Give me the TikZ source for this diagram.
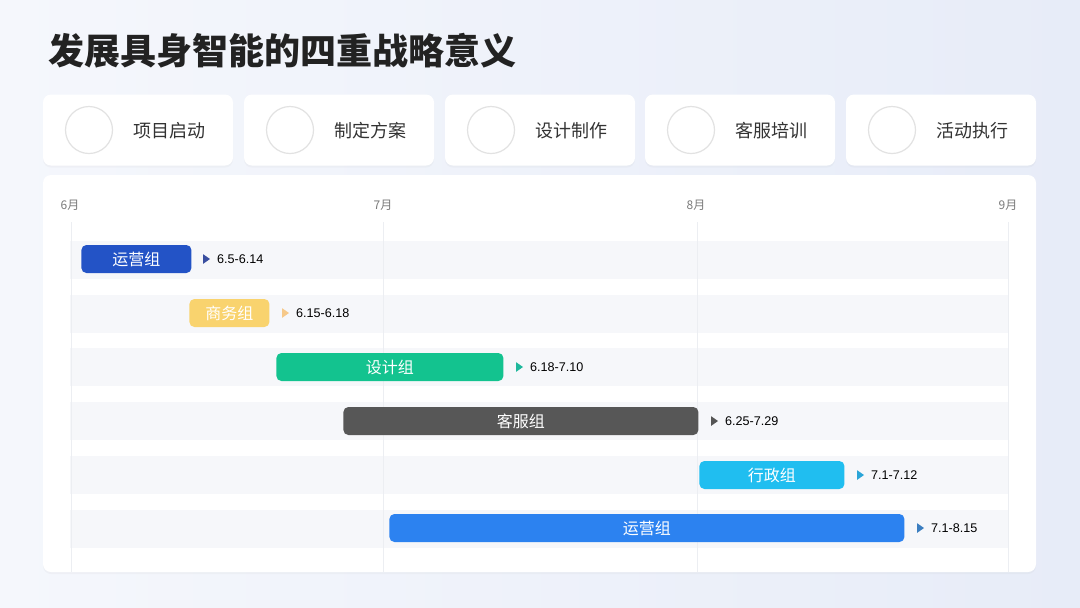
\documentclass[tikz,border=0pt]{standalone}
\usepackage{fontspec}
\setmainfont{Noto Sans CJK SC}
\newfontfamily\datefont{Liberation Sans}
\usetikzlibrary{positioning}
\usetikzlibrary{shapes.geometric}
\usetikzlibrary{shadows}
\definecolor{bgLight}{HTML}{F5F7FC}
\definecolor{bgDark}{HTML}{E7ECF8}
\definecolor{titleGray}{HTML}{222222}
\definecolor{textGray}{HTML}{333333}
\definecolor{monthGray}{HTML}{7A7A7A}
\definecolor{gridGray}{HTML}{ECEEF2}
\definecolor{bandGray}{HTML}{F6F7FA}
\definecolor{ringGray}{HTML}{E2E2E2}
\definecolor{opsBlue}{HTML}{2353C6}
\definecolor{bizYellow}{HTML}{F9D36E}
\definecolor{designGreen}{HTML}{13C38F}
\definecolor{serviceGray}{HTML}{575757}
\definecolor{adminCyan}{HTML}{20BEF0}
\definecolor{opsSky}{HTML}{2C82F0}
\definecolor{triNavy}{HTML}{3A4FA0}
\definecolor{triOrange}{HTML}{F6C98A}
\definecolor{triTeal}{HTML}{1FB89C}
\definecolor{triGray}{HTML}{555555}
\definecolor{triCyan}{HTML}{2AA5D8}
\definecolor{triBlue}{HTML}{3B7EC0}

\begin{document}
\begin{tikzpicture}[x = 0.5pt, y = -0.5pt]
	\tikzstyle{cardStyle} = [fill = white, rounded corners = 4pt, minimum width = 95pt, minimum height = 35.5pt, inner sep = 0pt, drop shadow = {opacity = 0.05, shadow xshift = 0pt, shadow yshift = -1pt}]
	\tikzstyle{ringStyle} = [shape = circle, draw = ringGray, line width = 0.6pt, minimum size = 23.5pt, inner sep = 0pt]
	\tikzstyle{cardText} = [text = textGray, font = \fontsize{9}{10}\selectfont, inner sep = 0pt]
	\tikzstyle{monthStyle} = [text = monthGray, font = \fontsize{6}{7}\selectfont, inner sep = 0pt]
	\tikzstyle{bandStyle} = [fill = bandGray, draw = none]
	\tikzstyle{barStyle} = [rounded corners = 2.5pt, minimum height = 14pt, inner sep = 0pt, anchor = west, text = white, font = \fontsize{8}{9}\selectfont]
	\tikzstyle{triStyle} = [shape = isosceles triangle, isosceles triangle apex angle = 70, minimum height = 3.4pt, inner sep = 0pt]
	\tikzstyle{dateStyle} = [inner sep = 0pt, font = \datefont\fontsize{6.3}{7}\selectfont]
	\useasboundingbox (0,0) rectangle (1080,607);
	\shade[left color = bgLight, right color = bgDark] (0,0) rectangle (1080,607);
	\node[anchor = west, text = titleGray, font = \fontsize{18}{20}\selectfont\bfseries, inner sep = 0pt] (title) at (48,51) {发展具身智能的四重战略意义};
	\node[cardStyle] (c1) at (138,130) {};
	\node[cardStyle] (c2) at (339,130) {};
	\node[cardStyle] (c3) at (540,130) {};
	\node[cardStyle] (c4) at (740,130) {};
	\node[cardStyle] (c5) at (941,130) {};
	\node[ringStyle] (r1) at (89,130) {};
	\node[ringStyle] (r2) at (290,130) {};
	\node[ringStyle] (r3) at (491,130) {};
	\node[ringStyle] (r4) at (691,130) {};
	\node[ringStyle] (r5) at (892,130) {};
	\node[cardText] (t1) at (169,131) {项目启动};
	\node[cardText] (t2) at (370,131) {制定方案};
	\node[cardText] (t3) at (571,131) {设计制作};
	\node[cardText] (t4) at (771,131) {客服培训};
	\node[cardText] (t5) at (972,131) {活动执行};
	\fill[white, rounded corners = 4pt, drop shadow = {opacity = 0.05, shadow xshift = 0pt, shadow yshift = -1pt}] (43,175) rectangle (1036,572);
	\fill[bandStyle] (70,241) rectangle (1008,279);
	\fill[bandStyle] (70,295) rectangle (1008,333);
	\fill[bandStyle] (70,348) rectangle (1008,386);
	\fill[bandStyle] (70,402) rectangle (1008,440);
	\fill[bandStyle] (70,456) rectangle (1008,494);
	\fill[bandStyle] (70,510) rectangle (1008,548);
	\draw[gridGray, line width = 0.4pt] (71,222) -- (71,572);
	\draw[gridGray, line width = 0.4pt] (383,222) -- (383,572);
	\draw[gridGray, line width = 0.4pt] (697,222) -- (697,572);
	\draw[gridGray, line width = 0.4pt] (1008,222) -- (1008,572);
	\node[monthStyle] (m6) at (70,205) {6月};
	\node[monthStyle] (m7) at (383,205) {7月};
	\node[monthStyle] (m8) at (696,205) {8月};
	\node[monthStyle] (m9) at (1008,205) {9月};
	\node[barStyle, fill = opsBlue, minimum width = 55pt] (b1) at (81,259) {运营组};
	\node[barStyle, fill = bizYellow, minimum width = 40pt] (b2) at (189,313) {商务组};
	\node[barStyle, fill = designGreen, minimum width = 113.5pt] (b3) at (276,367) {设计组};
	\node[barStyle, fill = serviceGray, minimum width = 177.5pt] (b4) at (343,421) {客服组};
	\node[barStyle, fill = adminCyan, minimum width = 72.5pt] (b5) at (699,475) {行政组};
	\node[barStyle, fill = opsSky, minimum width = 257.5pt] (b6) at (389,528) {运营组};
	\node[triStyle, fill = triNavy, right = 5.5pt of b1] (p1) {};
	\node[triStyle, fill = triOrange, right = 6pt of b2] (p2) {};
	\node[triStyle, fill = triTeal, right = 6pt of b3] (p3) {};
	\node[triStyle, fill = triGray, right = 6pt of b4] (p4) {};
	\node[triStyle, fill = triCyan, right = 6pt of b5] (p5) {};
	\node[triStyle, fill = triBlue, right = 6pt of b6] (p6) {};
	\node[dateStyle, right = 3pt of p1] (d1) {6.5-6.14};
	\node[dateStyle, right = 3pt of p2] (d2) {6.15-6.18};
	\node[dateStyle, right = 3pt of p3] (d3) {6.18-7.10};
	\node[dateStyle, right = 3pt of p4] (d4) {6.25-7.29};
	\node[dateStyle, right = 3pt of p5] (d5) {7.1-7.12};
	\node[dateStyle, right = 3pt of p6] (d6) {7.1-8.15};
\end{tikzpicture}
\end{document}
